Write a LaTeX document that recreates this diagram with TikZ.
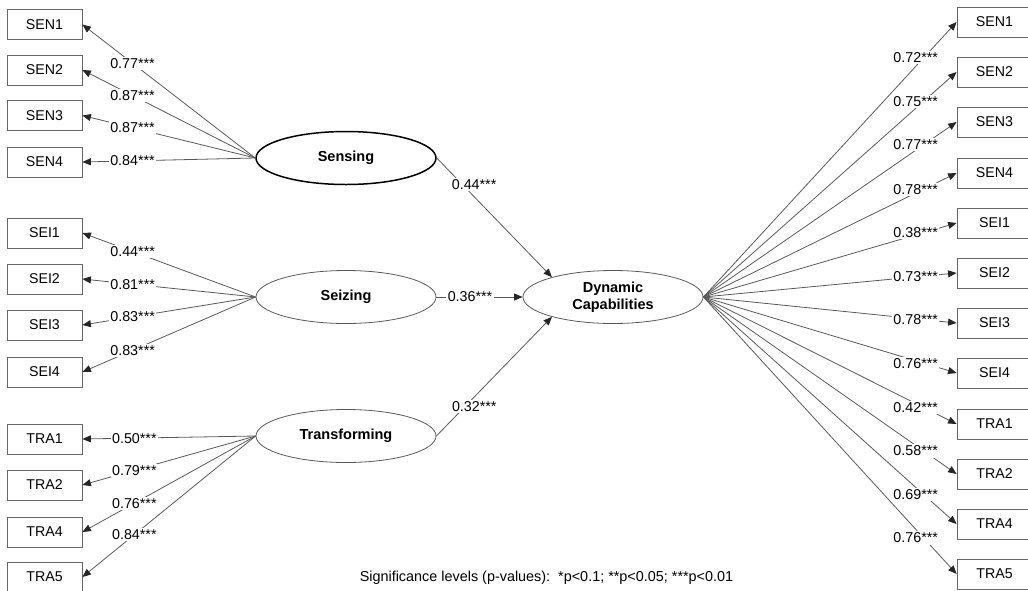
\documentclass[tikz,border=0pt]{standalone}
\usepackage{fontspec}
\setmainfont{Liberation Sans}
\usetikzlibrary{arrows.meta,shapes.geometric}
\colorlet{linkgray}{black!65}
\colorlet{boxgray}{black!60}

\begin{document}
\begin{tikzpicture}[x=1pt,y=-1pt,
    item/.style={draw=boxgray,line width=0.8pt,minimum width=75pt,minimum height=30pt,inner sep=0pt,font=\fontsize{14.2}{16}\selectfont},
    latent/.style={ellipse,draw=linkgray,line width=0.8pt,minimum width=180pt,minimum height=53pt,inner sep=0pt,align=center,font=\bfseries\fontsize{14.5}{17}\selectfont},
    load/.style={fill=white,inner sep=1.5pt,font=\fontsize{14.3}{16}\selectfont},
    link/.style={draw=linkgray,line width=0.8pt,-{Triangle[length=8.5pt,width=7pt,color=black!85]}}]
        \clip (0,0) rectangle (1028,590);
        % latent variables
        \node[latent,draw=black,line width=1.5pt] (sen) at (346,158) {Sensing};
        \node[latent] (sei) at (346,297) {Seizing};
        \node[latent] (tra) at (346,436) {Transforming};
        \node[latent] (dc) at (613,297) {Dynamic\\Capabilities};
        % first order indicators
        \foreach \name/\y/\v [count=\i] in {SEN1/24.5/0.77,SEN2/70/0.87,SEN3/115.5/0.87,SEN4/162/0.84}{
            \node[item] (sen\i) at (44.5,\y) {\name};
            \draw[link] (sen.west) -- node[load,pos=0.71]{\v***} (sen\i.east);
        }
        \foreach \name/\y/\v [count=\i] in {SEI1/233/0.44,SEI2/279/0.81,SEI3/325/0.83,SEI4/372/0.83}{
            \node[item] (sei\i) at (44.5,\y) {\name};
            \draw[link] (sei.west) -- node[load,pos=0.71]{\v***} (sei\i.east);
        }
        \foreach \name/\y/\v [count=\i] in {TRA1/439/0.50,TRA2/485/0.79,TRA4/532/0.76,TRA5/577/0.84}{
            \node[item] (tra\i) at (44.5,\y) {\name};
            \draw[link] (tra.west) -- node[load,pos=0.70]{\v***} (tra\i.east);
        }
        % second order indicators
        \foreach \name/\y/\v [count=\i] in {SEN1/22/0.72,SEN2/72/0.75,SEN3/122/0.77,SEN4/173/0.78,
                SEI1/223/0.38,SEI2/273/0.73,SEI3/323/0.78,SEI4/373/0.76,
                TRA1/424/0.42,TRA2/474/0.58,TRA4/524/0.69,TRA5/574/0.76}{
            \node[item] (dc\i) at (994.5,\y) {\name};
            \draw[link] (dc.east) -- node[load,pos=0.87,xshift=-8pt]{\v***} (dc\i.west);
        }
        % structural paths
        \draw[link] (sen.east) -- node[load,pos=0.22,xshift=12pt]{0.44***} (dc.162);
        \draw[link] (sei.east) -- node[load,pos=0.39]{0.36***} (dc.west);
        \draw[link] (tra.east) -- node[load,pos=0.25,xshift=9pt]{0.32***} (dc.198);
        \node[font=\fontsize{14.4}{16}\selectfont] (note) at (546.5,578) {Significance levels (p-values):\ \ *p<0.1; **p<0.05; ***p<0.01};
    \end{tikzpicture}
\end{document}
